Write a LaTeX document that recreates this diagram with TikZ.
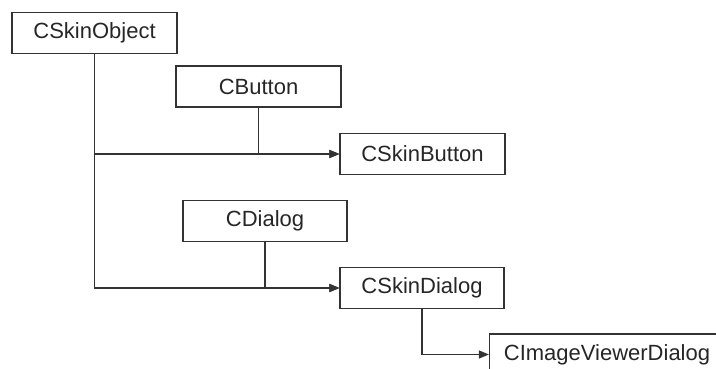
\documentclass[tikz,border=0pt]{standalone}
\usepackage{fontspec}
\setmainfont{Liberation Sans}
\usetikzlibrary{arrows.meta}
\begin{document}
\begin{tikzpicture}
[x=1pt,y=-1pt,
 nodedecorate/.style={shape=rectangle,inner sep=4pt,draw=black!80,line width=1.2pt,
   minimum height=41pt,font=\fontsize{22}{26}\selectfont,text=black!85},%
 linedecorate/.style={-{Triangle[length=10pt,width=8pt]},line width=1.2pt,draw=black!80,
   to path={(\tikztostart) |- (\tikztotarget) \tikztonodes}}]
\clip (0,0) rectangle (716,369);
%% nodes or vertices
\foreach \nodename/\x/\y/\w in {CSkinObject/94.5/33/165, CButton/258.5/86.5/165,
  CSkinButton/422.5/154/165, CDialog/265/221/164, CSkinDialog/422/288/164,
  CImageViewerDialog/607/354.5/235} {
  \node (\nodename) at (\x,\y) [nodedecorate,minimum width=\w pt] {\nodename};
}
%% edges or lines
\path
\foreach \startnode/\endnode in {CSkinObject/CSkinButton, CSkinObject/CSkinDialog,
  CButton/CSkinButton, CDialog/CSkinDialog, CSkinDialog/CImageViewerDialog} {
  (\startnode) edge[linedecorate] node {} (\endnode)
};
\end{tikzpicture}
\end{document}
